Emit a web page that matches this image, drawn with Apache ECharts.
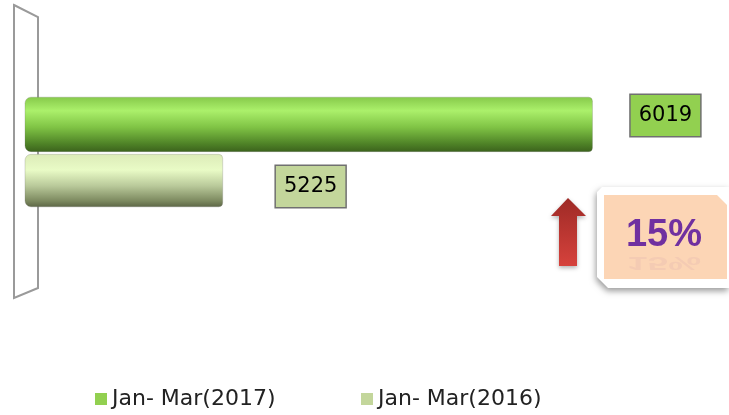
<!DOCTYPE html>
<html>
<head>
<meta charset="utf-8">
<script src="https://cdn.jsdelivr.net/npm/echarts@6/dist/echarts.min.js"></script>
<style>
    html, body { margin: 0; padding: 0; background: #fff; }
    #chart { width: 729px; height: 415px; }
</style>
</head>
<body>
<div id="chart"></div>
<script>
    const categories = ['Jan-Mar']
    const seriesNames = ['Jan- Mar(2017)', 'Jan- Mar(2016)']
    const values2017 = [6019]
    const values2016 = [5225]

    // growth shown in the callout box
    const growth = Math.round((values2017[0] - values2016[0]) / values2016[0] * 100) + '%'

    const myChart = echarts.init(document.getElementById('chart'))

    const labelBox = (bg) => ({
        show: true,
        position: 'right',
        color: '#000',
        fontFamily: 'DejaVu Sans',
        fontSize: 21,
        lineHeight: 24,
        backgroundColor: bg,
        borderColor: '#707070',
        borderWidth: 1.5,
        padding: [9, 8, 8, 8]
    })

    const legendText = { fontFamily: 'DejaVu Sans', fontSize: 22, color: '#222' }

    const option = {
        animation: false,
        backgroundColor: '#fff',
        grid: { left: 25, right: 52, top: 52, height: 200 },
        xAxis: { type: 'value', min: 4800, max: 6200, show: false },
        yAxis: { type: 'category', data: categories, inverse: true, show: false },
        legend: [
            {
                data: [{ name: seriesNames[0], itemStyle: { color: '#92d050', borderWidth: 0 } }],
                left: 95, top: 388, padding: 0, icon: 'rect',
                itemWidth: 12, itemHeight: 12, textStyle: legendText
            },
            {
                data: [{ name: seriesNames[1], itemStyle: { color: '#c3d69b', borderWidth: 0 } }],
                left: 361, top: 388, padding: 0, icon: 'rect',
                itemWidth: 12, itemHeight: 12, textStyle: legendText
            }
        ],
        series: [
            {
                name: seriesNames[0],
                type: 'bar',
                data: values2017,
                barWidth: 55,
                barGap: '4%',
                itemStyle: {
                    borderRadius: [6, 4, 4, 6],
                    borderColor: 'rgba(110,110,110,0.5)',
                    borderWidth: 0.5,
                    color: new echarts.graphic.LinearGradient(0, 0, 0, 1, [
                        { offset: 0, color: '#86c94a' },
                        { offset: 0.25, color: '#abf06b' },
                        { offset: 0.55, color: '#80c445' },
                        { offset: 0.85, color: '#4f8327' },
                        { offset: 1, color: '#3b621c' }
                    ])
                },
                label: Object.assign(labelBox('#92d050'), { distance: 38, offset: [0, -9] })
            },
            {
                name: seriesNames[1],
                type: 'bar',
                data: values2016,
                barWidth: 53,
                itemStyle: {
                    borderRadius: [6, 4, 4, 6],
                    borderColor: 'rgba(110,110,110,0.5)',
                    borderWidth: 0.5,
                    color: new echarts.graphic.LinearGradient(0, 0, 0, 1, [
                        { offset: 0, color: '#dcebb8' },
                        { offset: 0.3, color: '#e9fbc6' },
                        { offset: 0.6, color: '#b9c99a' },
                        { offset: 0.88, color: '#7d8a60' },
                        { offset: 1, color: '#5c6645' }
                    ])
                },
                label: Object.assign(labelBox('#c3d69b'), { distance: 53, offset: [0, 6] })
            }
        ],
        graphic: [
            {
                // side wall of the 3d plot
                type: 'polygon', z: 0,
                shape: { points: [[14, 5], [38, 17], [38, 288], [14, 298]] },
                style: { fill: 'none', stroke: '#9a9a9a', lineWidth: 2 }
            },
            {
                type: 'polygon', z: 100,
                shape: { points: [[568, 198], [586, 216], [577, 216], [577, 266], [559, 266], [559, 216], [551, 216]] },
                style: {
                    fill: new echarts.graphic.LinearGradient(0, 0, 0, 1, [
                        { offset: 0, color: '#9e2a26' },
                        { offset: 1, color: '#d6423c' }
                    ]),
                    shadowBlur: 4, shadowColor: 'rgba(0,0,0,0.3)', shadowOffsetY: 2
                }
            },
            {
                type: 'polygon', z: 100,
                shape: { points: [[602, 187], [729, 187], [729, 288], [608, 288], [597, 277], [597, 192]] },
                style: { fill: '#fff', shadowBlur: 6, shadowColor: 'rgba(0,0,0,0.4)', shadowOffsetX: -1, shadowOffsetY: 3 }
            },
            {
                type: 'polygon', z: 101,
                shape: { points: [[604, 195], [717, 195], [727, 205], [727, 279], [604, 279]] },
                style: { fill: '#fcd5b5' }
            },
            {
                type: 'text', z: 102, x: 664, y: 262, scaleY: -0.5,
                style: {
                    text: growth, fill: 'rgba(112,48,160,0.06)', fontFamily: 'Liberation Sans', fontWeight: 'bold',
                    fontSize: 37, align: 'center', verticalAlign: 'middle'
                }
            },
            {
                type: 'text', z: 103, x: 664, y: 236,
                style: {
                    text: growth, fill: '#7030a0', fontFamily: 'Liberation Sans', fontWeight: 'bold',
                    fontSize: 38, align: 'center', verticalAlign: 'middle',
                    shadowBlur: 2, shadowColor: 'rgba(60,0,90,0.3)', shadowOffsetY: 1
                }
            }
        ]
    }
    myChart.setOption(option)
</script>
</body>
</html>
